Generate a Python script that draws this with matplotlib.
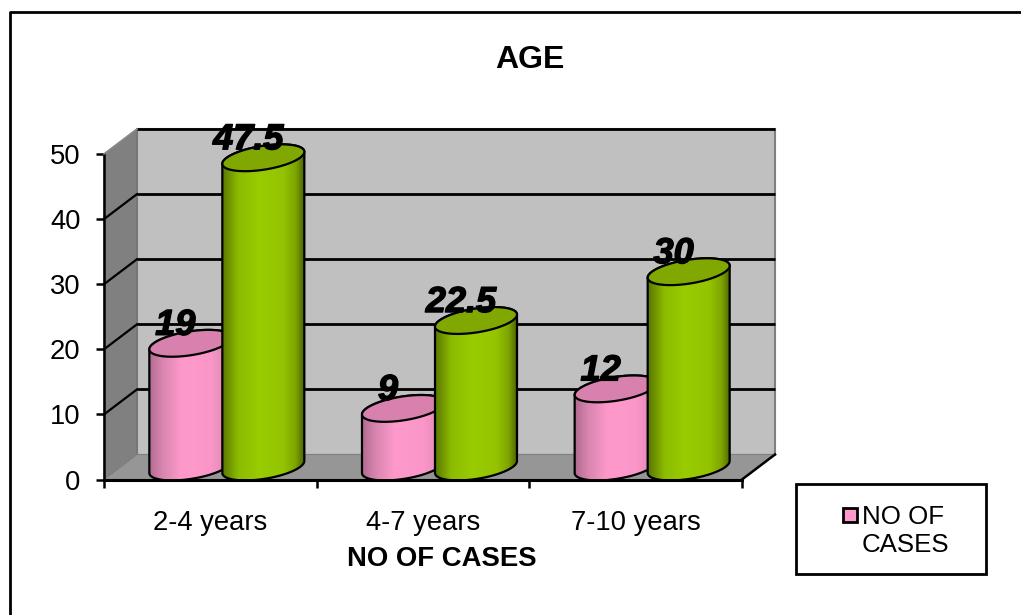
import numpy as np
from matplotlib import pyplot as plt
from matplotlib import patheffects as pe
from matplotlib.colors import LinearSegmentedColormap
from matplotlib.patches import Polygon, Rectangle
from matplotlib.lines import Line2D
from matplotlib.transforms import offset_copy

categories = ["2-4 years", "4-7 years", "7-10 years"]
cases = [19, 9, 12]
percent = [47.5, 22.5, 30]
y_ticks = [0, 10, 20, 30, 40, 50]
x_label = "NO OF CASES"
title = "AGE"
legend_label = "NO OF\nCASES"

W, H = 1021, 615
plt.rcParams['font.family'] = ['Liberation Sans', 'DejaVu Sans']

fig = plt.figure(figsize=(W / 100, H / 100), dpi=100)

# front plane of the 3d box, in pixels
left, right, bottom, top = 104, 742, 479.5, 154
ax = fig.add_axes([left / W, 1 - bottom / H, (right - left) / W, (bottom - top) / H])
ax.set_xlim(-0.5, 2.5)
ax.set_ylim(0, 50)
ax.patch.set_visible(False)
for s in ax.spines.values():
    s.set_visible(False)

px_x = (right - left) / 3
DX, DY = 33, 25

back = offset_copy(ax.transData, fig=fig, x=DX, y=DY, units='dots')
mid = offset_copy(ax.transData, fig=fig, x=DX / 2, y=DY / 2, units='dots')

# back wall
ax.add_patch(Polygon([(-0.5, 0), (2.5, 0), (2.5, 50), (-0.5, 50)], closed=True, fc="#c0c0c0",
                     ec="#808080", lw=1.5, transform=back, clip_on=False, zorder=1))

# side wall and floor go from the front plane to the back wall
fx0, fy0 = ax.transData.transform((-0.5, 0))
fx1, fy1 = ax.transData.transform((2.5, 0))
_, fy2 = ax.transData.transform((-0.5, 50))
ident = None
ax.add_patch(Polygon([(fx0, fy0), (fx0 + DX, fy0 + DY), (fx0 + DX, fy2 + DY), (fx0, fy2)], closed=True,
                     fc="#808080", ec="#707070", lw=0.8, transform=ident, clip_on=False, zorder=1.1))
ax.add_patch(Polygon([(fx0, fy0), (fx1, fy1), (fx1 + DX, fy1 + DY), (fx0 + DX, fy0 + DY)], closed=True,
                     fc="#969696", ec="#808080", lw=0.8, transform=ident, clip_on=False, zorder=1.1))

# gridlines on the back wall and along the side wall
for v in y_ticks[1:]:
    ax.plot([-0.5, 2.5], [v, v], color="black", lw=2.0, transform=back, clip_on=False, zorder=1.5,
            solid_capstyle='butt')
    gy = ax.transData.transform((0, v))[1]
    if v < 50:
        fig.add_artist(Line2D([fx0, fx0 + DX], [gy, gy + DY], color="black", lw=1.6, transform=None, zorder=1.5))
    else:
        fig.add_artist(Line2D([fx0, fx0 + DX], [gy, gy + DY], color="#8a8a8a", lw=1.2, transform=None, zorder=1.5))

# axis lines and ticks
fig.add_artist(Line2D([fx1, fx1 + DX], [fy1, fy1 + DY], color="black", lw=1.8, transform=None, zorder=1.5))
ax.plot([-0.5, -0.5], [0, 50], color="black", lw=1.8, clip_on=False, zorder=1.6)
ax.plot([-0.5, 2.5], [0, 0], color="black", lw=2.2, clip_on=False, zorder=1.6)
ax.set_xticks([-0.5, 0.5, 1.5, 2.5])
ax.set_xticklabels([])
ax.set_yticks(y_ticks)
ax.set_yticklabels([str(v) for v in y_ticks], fontsize=19.7)
ax.tick_params(axis='both', length=5.8, width=1.8, color="black", pad=11)
ax.tick_params(axis='x', pad=0)
for i, c in enumerate(categories):
    ax.annotate(c, (i, 0), xytext=(0, -30), textcoords='offset pixels', ha='center', va='top', fontsize=19.7)

pink_map = LinearSegmentedColormap.from_list("pink", [(0, "#b06a90"), (0.15, "#d584ad"), (0.4, "#ff99cc"),
                                                       (0.75, "#fb97c8"), (0.9, "#e58cb9"), (1, "#b86c94")])
green_map = LinearSegmentedColormap.from_list("green", [(0, "#5a7600"), (0.2, "#8cbc00"), (0.45, "#99cc00"),
                                                         (0.75, "#94c400"), (0.9, "#7da400"), (1, "#4f6800")])

# cylinder shape in pixels
R = 41 / px_x
B = 12 / ((bottom - top) / 50)
K = 6 / ((bottom - top) / 50)
t = np.linspace(0, 2 * np.pi, 121)


def ellipse(x, v):
    return np.column_stack([x + R * np.cos(t), v + B * np.sin(t) + K * np.cos(t)])


def cylinder(x, v, cmap, top_color, z):
    e_low = ellipse(x, 0)
    e_up = ellipse(x, v)
    low_half = e_low[(t >= np.pi)]
    up_half = e_up[(t <= np.pi)]
    body = np.vstack([low_half, up_half])
    patch = Polygon(body, closed=True, fc="none", ec="black", lw=1.6, transform=mid, clip_on=False, zorder=z + 0.2)
    ax.add_patch(patch)
    grad = np.linspace(0, 1, 256).reshape(1, -1)
    im = ax.imshow(grad, cmap=cmap, extent=(x - R, x + R, -5, v + 5), aspect='auto', transform=mid, zorder=z,
                   interpolation='bilinear')
    im.set_clip_path(Polygon(body, closed=True, transform=mid))
    ax.add_patch(Polygon(e_up, closed=True, fc=top_color, ec="black", lw=1.6, transform=mid, clip_on=False,
                         zorder=z + 0.3))


gap = 36.5 / px_x
for i in range(len(categories)):
    cylinder(i - gap, cases[i], pink_map, "#d981ae", 2 + i * 0.01)
    cylinder(i + gap, percent[i], green_map, "#80a800", 3 + i * 0.01)

ax.set_xlim(-0.5, 2.5)
ax.set_ylim(0, 50)

# value labels over the cylinder tops
stroke = [pe.withStroke(linewidth=1.0, foreground="black")]
for i in range(len(categories)):
    for xpos, v in ((i - gap, cases[i]), (i + gap, percent[i])):
        ax.annotate(f"{v:g}", (xpos, v), xytext=(-15, 18), textcoords='offset pixels', xycoords=mid,
                    ha='center', va='center', fontsize=26, fontweight='bold', fontstyle='italic',
                    color="black", path_effects=stroke, zorder=6, annotation_clip=False)

fig.text(530 / W, 1 - 60 / H, title, ha='center', va='center', fontsize=23, fontweight='bold')
fig.text(442 / W, 1 - 559 / H, x_label, ha='center', va='center', fontsize=19.8, fontweight='bold')

# chart border only on the top and left
fig.add_artist(Line2D([10 / W, 10 / W, 1], [0, 1 - 12 / H, 1 - 12 / H], color="black", lw=2))

# legend box
fig.add_artist(Rectangle((796 / W, 1 - 574 / H), 190 / W, 90 / H, fc="white", ec="black", lw=2, transform=fig.transFigure))
fig.add_artist(Rectangle((842.5 / W, 1 - 522 / H), 14 / W, 14 / H, fc="#ff99cc", ec="black", lw=2, transform=fig.transFigure))
fig.text(862 / W, 1 - 531 / H, legend_label, ha='left', va='center', fontsize=18.6, linespacing=1.2)

fig.savefig("out.png", dpi=100)
